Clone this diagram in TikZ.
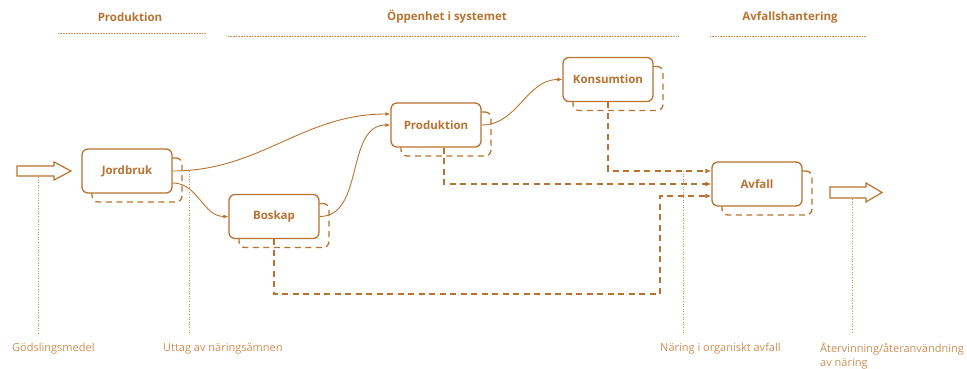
\documentclass[tikz,border=0pt]{standalone}
\usepackage{fontspec}
\setmainfont{Open Sans}
\usetikzlibrary{positioning, calc, arrows.meta, shadows}
\definecolor{brun}{RGB}{185,115,48}
\definecolor{ljusbrun}{RGB}{206,142,84}
\tikzstyle{Flow} = [
    brun, line width=0.9pt,
    -{Latex[length=5pt, width=4pt]}
]
\tikzstyle{Waste} = [
    brun, line width=1.2pt,
    dash pattern=on 6pt off 4.5pt,
    -{Latex[length=6pt, width=5pt]}
]
\begin{document}
\begin{tikzpicture}[x=1pt, y=-1pt,
box/.style={
    draw=brun, fill=white, line width=1.3pt,
    rounded corners=6pt,
    minimum width=90pt, minimum height=44pt,
    text=brun, font=\bfseries\fontsize{11.5}{13}\selectfont,
    general shadow={draw=brun, fill=none, line width=1.3pt,
        dash pattern=on 6pt off 4.5pt,
        shadow xshift=10pt, shadow yshift=-9pt}
    },
pil/.style={draw=brun, fill=white, line width=1.2pt, line join=miter},
head/.style={text=brun, font=\bfseries\fontsize{11.5}{13}\selectfont},
lbl/.style={
    text=ljusbrun, font=\fontsize{11}{13.5}\selectfont,
    inner sep=0pt, align=left, anchor=north west
    },
rule/.style={ljusbrun, line width=0.7pt, dash pattern=on 0.8pt off 0.8pt},
dotline/.style={ljusbrun, line width=0.9pt, dash pattern=on 1pt off 1.6pt, shorten >=9pt}
]
\useasboundingbox (0,0) rectangle (967,369);

% rubriker
\node[head] (h1) at (130,17) {Produktion};
\node[head] (h2) at (447,17) {Öppenhet i systemet};
\node[head] (h3) at (790,17) {Avfallshantering};
\draw[rule] (58,33) -- (206,33);
\draw[rule] (228,36) -- (679,36);
\draw[rule] (710,36) -- (866,36);

% boxar
\node[box] (jord) at (127,171) {Jordbruk};
\node[box] (bosk) at (274,216.5) {Boskap};
\node[box] (prod) at (436,125) {Produktion};
\node[box] (kons) at (608,79.5) {Konsumtion};
\node[box] (avf) at (757,184) {Avfall};

% in- och utflöde
\draw[pil] (17,166) -- (54,166) -- (54,162) -- (71,171) -- (54,180) -- (54,176) -- (17,176) -- cycle;
\draw[pil] (830,187) -- (866,187) -- (866,183) -- (882,192.5) -- (866,202) -- (866,198) -- (830,198) -- cycle;

\draw[Flow] (jord.east) to [out=0, in=180] ([yshift=11pt]prod.west);
\draw[Flow] ([yshift=-12pt]jord.east) to [out=0, in=180] (bosk.west);
\draw[Flow] (bosk.east) to [out=0, in=180] (prod.west);
\draw[Flow] (prod.east) to [out=0, in=180] (kons.west);

\coordinate (hrn) at (660,294);
\draw[Waste] (kons.south) |- ([yshift=13pt]avf.west);
\draw[Waste] ([xshift=8pt]prod.south) |- (avf.west);
\draw[Waste] (bosk.south) |- (hrn) |- ([yshift=-12pt]avf.west);

% etiketter
\node[lbl] (gods) at (12,343) {Gödslingsmedel};
\node[lbl] (uttag) at (163,343) {Uttag av näringsämnen};
\node[lbl] (naring) at (660,343) {Näring i organiskt avfall};
\node[lbl] (atev) at (820,343) {Återvinning/återanvändning\\av näring};

\coordinate (p1) at (38,177);
\coordinate (p2) at (189,171);
\coordinate (p3) at (683,171);
\coordinate (p4) at (852,199);
\draw[dotline] (p1) -- (p1 |- gods.north);
\draw[dotline] (p2) -- (p2 |- uttag.north);
\draw[dotline] (p3) -- (p3 |- naring.north);
\draw[dotline] (p4) -- (p4 |- atev.north);

\end{tikzpicture}
\end{document}
